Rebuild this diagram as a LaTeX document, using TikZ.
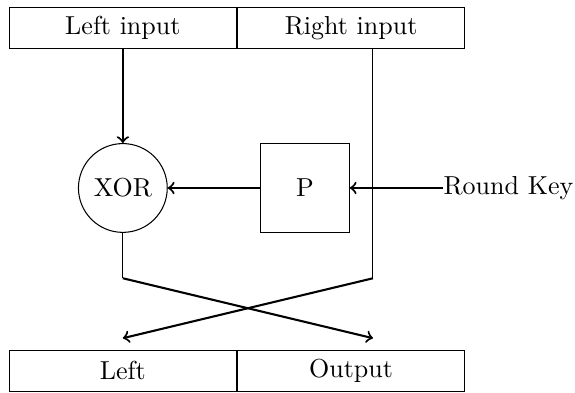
\documentclass[tikz,border=0pt]{standalone}
\usepackage{tikz}
\usetikzlibrary{arrows}
\usetikzlibrary{positioning,calc}
\tikzset{
    field/.style={
           rectangle,
           draw=black,
           minimum width=3.07cm,
           minimum height=0.55cm,
           inner sep=2pt,
           text centered,
           },
    gate/.style={
           circle,
           draw=black,
           minimum size=1.2cm,
           inner sep=0pt,
           },
    perm/.style={
           rectangle,
           draw=black,
           minimum size=1.2cm,
           inner sep=2pt,
           },
}
\begin{document}
\begin{tikzpicture}
[
->,thick
]
 \useasboundingbox (-1.66,-2.76) rectangle (6.11,2.54);

 % input halves
 \node[field,thin] (LIN) at (0,2.16) {Left input};
 \node[field,thin,right=0cm of LIN] (RIN) {Right input};

 % round function
 \node[gate,thin] (XOR) at (0,0) {XOR};
 \node[perm,thin] (P) at (2.46,0) {P};
 \node[anchor=west,inner sep=0pt] (KEY) at (4.32,0) {Round Key};

 % output halves
 \node[field,thin] (LOUT) at (0,-2.47) {Left};
 \node[field,thin,right=0cm of LOUT] (ROUT) {Output};

 % corners of the swap
 \coordinate (lcol) at (0,-1.22);
 \coordinate (rcol) at (3.38,-1.22);
 \coordinate (lend) at (0,-2.03);
 \coordinate (rend) at (3.38,-2.03);

 \draw (LIN.south) -- (XOR.north);
 \draw (KEY.west) -- (P.east);
 \draw (P.west) -- (XOR.east);
 \draw[-,thin] (XOR.south) -- (lcol);
 \draw[-,thin] (RIN.south -| rcol) -- (rcol);
 \draw (lcol) -- (rend);
 \draw (rcol) -- (lend);
\end{tikzpicture}
\end{document}
